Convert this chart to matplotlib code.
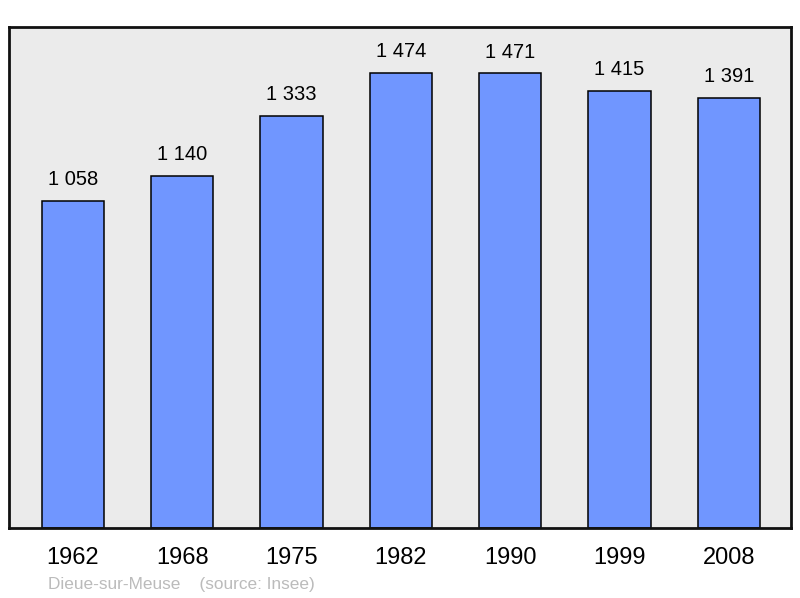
import matplotlib.pyplot as plt
import numpy as np

plt.rcParams['font.family'] = ['Liberation Sans', 'DejaVu Sans']

years = ["1962", "1968", "1975", "1982", "1990", "1999", "2008"]
population = [1058, 1140, 1333, 1474, 1471, 1415, 1391]
labels = ["1 058", "1 140", "1 333", "1 474", "1 471", "1 415", "1 391"]

fig = plt.figure(figsize=(8, 5.98), dpi=100)
ax = fig.add_axes([8.5/800, 1-528/598, (791-8.5)/800, (528-27)/598])
ax.set_facecolor("#ebebeb")

x = np.arange(len(years))
ax.bar(x, population, width=0.57, color="#7096ff", edgecolor="black", linewidth=1.1, zorder=2)
for xi, v, lab in zip(x, population, labels):
    ax.text(xi, v + 38, lab, ha="center", va="bottom", fontsize=14.5)

ax.set_xlim(-0.59, 6.57)
ax.set_ylim(0, max(population) * 1.1)
ax.set_yticks([])
ax.set_xticks(x, years)
ax.tick_params(axis="x", length=0, labelsize=17, pad=14)
for s in ax.spines.values():
    s.set_linewidth(2)
    s.set_color("#111111")

fig.text(48/800, 1-584/598, "Dieue-sur-Meuse    (source: Insee)", fontsize=12.4,
         color="#bbbbbb", va="center")

fig.savefig("out.png", dpi=100)
